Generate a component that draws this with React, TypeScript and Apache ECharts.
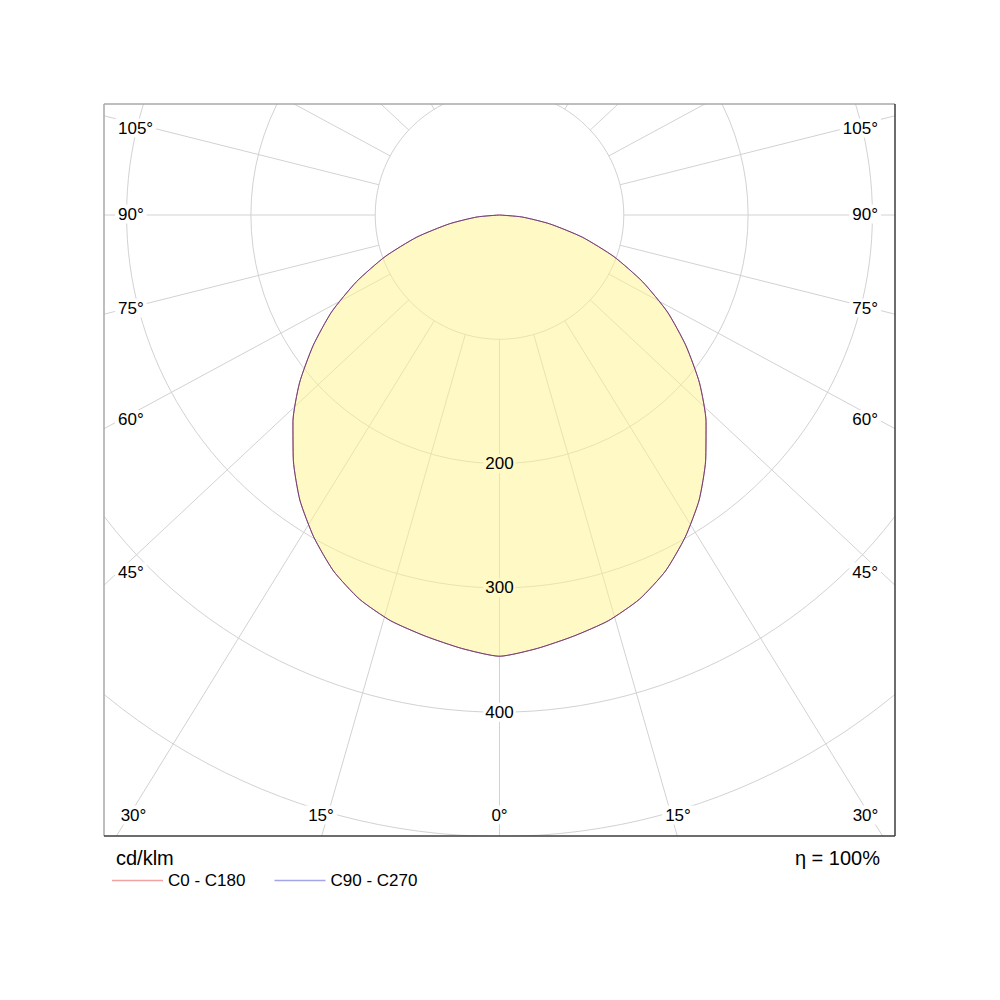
import React, { useEffect, useRef } from "react";
import * as echarts from "echarts";

// ---- data (cd/klm) ----
const GAMMA = [0, 5, 10, 15, 20, 25, 30, 35, 40, 45, 50, 55, 60, 65, 70, 75, 80, 85, 90];
const C0_C180 = [355, 350, 344, 338, 329, 316, 299, 280, 258, 235, 210, 183, 156, 127, 98, 69, 41, 18, 0];
const C90_C270 = [355, 350, 344, 338, 329, 316, 299, 280, 258, 235, 210, 183, 156, 127, 98, 69, 41, 18, 0];
const SERIES_NAMES = ["C0 - C180", "C90 - C270"];
const RADIUS_TICKS = [100, 200, 300, 400, 500, 600];
const RADIUS_LABELS = [200, 300, 400];
const GRID_ANGLES = [0, 15, 30, 45, 60, 75, 90, 105, 120, 135, 150, 165, 180];
const SIDE_TICKS = [45, 60, 75, 90, 105];
const BOTTOM_TICKS = [0, 15, 30];
const UNIT = "cd/klm";
const EFFICIENCY = "η = 100%";

// ---- layout / style ----
const FONT = '"Liberation Sans", Arial, Helvetica, sans-serif';
const CENTER: [number, number] = [499.5, 215];
const RADIUS_PX = 745.8;
const FRAME = { l: 104, t: 104, r: 895, b: 836 };
const GRID_COLOR = "#d2d2d2";
const FILL = "rgba(255, 245, 140, 0.5)";
const FILL_ON_WHITE = "#fffac5";
const SMOOTH = 0.2;
const GRID_SKEW = 0.936; // radial grid as drawn in the reference
const SIDE_LABEL_Y: Record<number, number> = { 45: 572, 60: 419.5, 75: 308, 90: 214, 105: 128 };
const BOTTOM_LABEL_DX: Record<number, number> = { 0: 0, 15: 178.5, 30: 366 };
const BOTTOM_LABEL_Y = 815;

const rad = (d: number) => (d * Math.PI) / 180;
const skew = (g: number) =>
  (Math.atan2(Math.sin(rad(g)), GRID_SKEW * Math.cos(rad(g))) * 180) / Math.PI;

// full curve: left half (C180 / C270) then right half (C0 / C90)
function curve(values: number[]): [number, number][] {
  const left: [number, number][] = [];
  for (let i = GAMMA.length - 1; i >= 0; i--) left.push([values[i], 360 - GAMMA[i]]);
  const right: [number, number][] = GAMMA.map((g, i) => [values[i], g] as [number, number]);
  return left.concat(right.slice(1));
}

export default function App() {
  const ref = useRef<HTMLDivElement>(null);

  useEffect(() => {
    if (!ref.current) return;
    const chart = echarts.init(ref.current, undefined, { renderer: "svg" });

    const gridLineData: [number, number][] = [];
    GRID_ANGLES.forEach((g) => {
      const a = skew(g);
      gridLineData.push([RADIUS_TICKS[RADIUS_TICKS.length - 1], a]);
      if (g !== 0 && g !== 180) gridLineData.push([RADIUS_TICKS[RADIUS_TICKS.length - 1], 360 - a]);
    });

    const curveA = curve(C0_C180);
    const curveB = curve(C90_C270);

    const textEl = (text: string, x: number, y: number, align: string, size = 17, bg = "#fff") => ({
      type: "text",
      x,
      y,
      z: 60,
      style: {
        text,
        fontSize: size,
        fontFamily: FONT,
        fill: "#000",
        align,
        verticalAlign: "middle",
        backgroundColor: bg,
        padding: [1, 3],
      },
    });

    const angleLabels: any[] = [];
    SIDE_TICKS.forEach((g) => {
      angleLabels.push(textEl(g + "°", FRAME.l + 11, SIDE_LABEL_Y[g], "left"));
      angleLabels.push(textEl(g + "°", FRAME.r - 14, SIDE_LABEL_Y[g], "right"));
    });
    BOTTOM_TICKS.forEach((g) => {
      angleLabels.push(textEl(g + "°", CENTER[0] - BOTTOM_LABEL_DX[g], BOTTOM_LABEL_Y, "center"));
      if (g !== 0) angleLabels.push(textEl(g + "°", CENTER[0] + BOTTOM_LABEL_DX[g], BOTTOM_LABEL_Y, "center"));
    });

    const option: any = {
      animation: false,
      backgroundColor: "#fff",
      polar: { center: CENTER, radius: RADIUS_PX },
      angleAxis: {
        type: "value",
        min: 0,
        max: 360,
        interval: 15,
        startAngle: 270,
        clockwise: false,
        axisLine: { show: false },
        axisTick: { show: false },
        axisLabel: { show: false },
        splitLine: { show: false },
      },
      radiusAxis: {
        type: "value",
        min: 0,
        max: RADIUS_TICKS[RADIUS_TICKS.length - 1],
        interval: 100,
        axisLine: { show: false },
        axisTick: { show: false },
        axisLabel: { show: false },
        splitLine: { show: true, lineStyle: { color: GRID_COLOR, width: 1 } },
      },
      legend: {
        left: 112,
        top: 872,
        padding: 0,
        icon: "rect",
        itemWidth: 51,
        itemHeight: 1.5,
        itemGap: 29,
        selectedMode: false,
        z: 100,
        textStyle: { fontSize: 17, color: "#000", fontFamily: FONT },
        data: [
          { name: SERIES_NAMES[0], itemStyle: { color: "#f2a2a2", opacity: 1 } },
          { name: SERIES_NAMES[1], itemStyle: { color: "#a4a4ea", opacity: 1 } },
        ],
      },
      series: [
        {
          type: "custom",
          name: "grid",
          coordinateSystem: "polar",
          silent: true,
          z: 1,
          data: gridLineData,
          renderItem: (params: any, api: any) => {
            const a = api.value(1);
            const p1 = api.coord([RADIUS_TICKS[0], a]);
            const p2 = api.coord([RADIUS_TICKS[RADIUS_TICKS.length - 1], a]);
            return {
              type: "line",
              shape: { x1: p1[0], y1: p1[1], x2: p2[0], y2: p2[1] },
              style: { stroke: GRID_COLOR, lineWidth: 1 },
            };
          },
        },
        {
          type: "custom",
          name: "fill",
          coordinateSystem: "polar",
          silent: true,
          z: 2,
          data: [[0, 0]],
          renderItem: (params: any, api: any) => {
            const pts = curveA.map((p) => api.coord(p));
            return {
              type: "polygon",
              shape: { points: pts, smooth: SMOOTH },
              style: { fill: FILL, stroke: "none" },
            };
          },
        },
        {
          type: "line",
          name: SERIES_NAMES[0],
          coordinateSystem: "polar",
          data: curveA,
          symbol: "none",
          smooth: SMOOTH,
          clip: false,
          z: 3,
          color: "#d04848",
          lineStyle: { color: "#d04848", width: 1 },
        },
        {
          type: "line",
          name: SERIES_NAMES[1],
          coordinateSystem: "polar",
          data: curveB,
          symbol: "none",
          smooth: SMOOTH,
          clip: false,
          z: 3,
          color: "#4040a0",
          lineStyle: { color: "#4040a0", width: 1, opacity: 0.7 },
        },
        {
          type: "scatter",
          name: "labels",
          coordinateSystem: "polar",
          silent: true,
          z: 4,
          symbolSize: 1,
          itemStyle: { color: "transparent" },
          data: RADIUS_LABELS.map((v) => ({
            value: [v, 0],
            label: { backgroundColor: v < C0_C180[0] ? FILL_ON_WHITE : "#fff" },
          })),
          label: {
            show: true,
            position: "inside",
            formatter: (p: any) => String(p.value[0]),
            fontSize: 17,
            fontFamily: FONT,
            color: "#000",
            opacity: 1,
            textBorderWidth: 0,
            padding: [1, 2],
          },
        },
      ],
      graphic: [
        { type: "rect", z: 50, shape: { x: 0, y: 0, width: 1000, height: FRAME.t }, style: { fill: "#fff" } },
        { type: "rect", z: 50, shape: { x: 0, y: FRAME.b, width: 1000, height: 1000 - FRAME.b }, style: { fill: "#fff" } },
        { type: "rect", z: 50, shape: { x: 0, y: FRAME.t, width: FRAME.l, height: FRAME.b - FRAME.t }, style: { fill: "#fff" } },
        { type: "rect", z: 50, shape: { x: FRAME.r, y: FRAME.t, width: 1000 - FRAME.r, height: FRAME.b - FRAME.t }, style: { fill: "#fff" } },
        { type: "line", z: 55, shape: { x1: FRAME.l, y1: FRAME.t, x2: FRAME.r, y2: FRAME.t }, style: { stroke: "#a8a8a8", lineWidth: 1.5 } },
        { type: "line", z: 55, shape: { x1: FRAME.l, y1: FRAME.t, x2: FRAME.l, y2: FRAME.b }, style: { stroke: "#a8a8a8", lineWidth: 1.5 } },
        { type: "line", z: 55, shape: { x1: FRAME.l, y1: FRAME.b, x2: FRAME.r, y2: FRAME.b }, style: { stroke: "#3c3c3c", lineWidth: 1.5 } },
        { type: "line", z: 55, shape: { x1: FRAME.r, y1: FRAME.t, x2: FRAME.r, y2: FRAME.b }, style: { stroke: "#3c3c3c", lineWidth: 1.5 } },
        ...angleLabels,
        {
          type: "text",
          x: 116,
          y: 858,
          z: 100,
          style: { text: UNIT, fontSize: 20, fontFamily: FONT, fill: "#000", align: "left", verticalAlign: "middle" },
        },
        {
          type: "text",
          x: 880,
          y: 858,
          z: 100,
          style: { text: EFFICIENCY, fontSize: 20, fontFamily: FONT, fill: "#000", align: "right", verticalAlign: "middle" },
        },
      ],
    };

    chart.setOption(option);
    return () => chart.dispose();
  }, []);

  return (
    <div
      ref={ref}
      style={{ position: "absolute", left: 0, top: 0, width: 1000, height: 1000, background: "#fff" }}
    />
  );
}
